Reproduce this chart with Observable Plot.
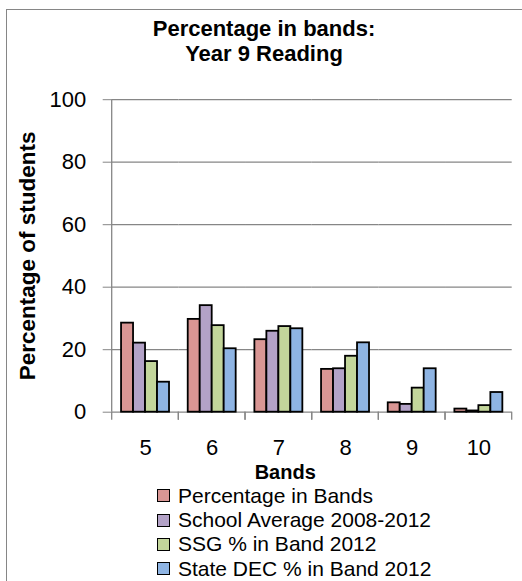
<!DOCTYPE html>
<html>
<head>
<meta charset="utf-8">
<script src="https://cdn.jsdelivr.net/npm/d3@7"></script>
<script src="https://cdn.jsdelivr.net/npm/@observablehq/plot@0.6"></script>
<style>
  html, body { margin: 0; padding: 0; background: #fff; }
  #wrap { position: relative; width: 522px; height: 581px; overflow: hidden; font-family: "Liberation Sans", Arial, sans-serif; color: #000; }
  #border { position: absolute; left: 6px; top: 9px; width: 700px; height: 800px; border: 1.5px solid #868686; }
  #title { position: absolute; left: 0; top: 15.6px; width: 528px; text-align: center; font-weight: bold; font-size: 22px; line-height: 25px; }
  #chart { position: absolute; left: 0; top: 80px; }
  #legend { position: absolute; left: 157px; top: 483.5px; font-size: 21px; }
  #legend .row { display: flex; align-items: center; height: 24.4px; line-height: 24.4px; white-space: nowrap; }
  #legend .sw { width: 11px; height: 11px; border: 1px solid #000; margin-right: 8px; flex: none; }
</style>
</head>
<body>
<div id="wrap">
  <div id="border"></div>
  <div id="title">Percentage in bands:<br>Year 9 Reading</div>
  <div id="chart"></div>
  <div id="legend"></div>
</div>
<script>
const bands = ["5", "6", "7", "8", "9", "10"];
const series = ["Percentage in Bands", "School Average 2008-2012", "SSG % in Band 2012", "State DEC % in Band 2012"];
const percentageInBands = [28.5, 29.7, 23.2, 13.7, 3.0, 1.0];
const schoolAverage = [22.1, 34.1, 25.9, 13.9, 2.5, 0.4];
const ssgBand = [16.2, 27.7, 27.4, 17.9, 7.7, 2.1];
const stateBand = [9.6, 20.3, 26.7, 22.2, 13.9, 6.3];
const yTicks = [0, 20, 40, 60, 80, 100];
const colors = ["#D99694", "#B3A2C7", "#C3D69B", "#8EB4E3"];

const valuesBySeries = [percentageInBands, schoolAverage, ssgBand, stateBand];
const data = [];
bands.forEach((b, i) => series.forEach((s, j) => data.push({band: b, series: s, value: valuesBySeries[j][i]})));

const gray = "#868686";

const chart = Plot.plot({
  width: 522,
  height: 408,
  marginLeft: 111.7,
  marginRight: 10.3,
  marginTop: 19.2,
  marginBottom: 76.3,
  style: {fontFamily: "'Liberation Sans', Arial, sans-serif", fontSize: "20px", color: "#000", background: "transparent"},
  fx: {domain: bands, padding: 0, round: false},
  x: {domain: series, paddingInner: 0, paddingOuter: 0.78, round: false, axis: null},
  y: {domain: [0, 100], axis: null},
  color: {domain: series, range: colors},
  marks: [
    Plot.gridY(yTicks, {stroke: gray, strokeOpacity: 1, strokeWidth: 1.3}),
    Plot.ruleY(bands, {
      fx: d => d, y: () => 0, stroke: gray,
      render: (index, scales, values, dims) => {
        const g = d3.create("svg:g").attr("stroke", gray).attr("stroke-width", 1.3);
        const y0 = scales.y(0);
        const xl = dims.marginLeft, xr = dims.width - dims.marginRight;
        for (const x of [xl, xr]) g.append("line").attr("x1", x).attr("x2", x).attr("y1", y0).attr("y2", y0 + 8);
        if (index.length && index[0] === 0) {
          g.append("line").attr("x1", xl).attr("x2", xl).attr("y1", scales.y(100)).attr("y2", y0);
        }
        return g.node();
      }
    }),
    Plot.barY(data, {fx: "band", x: "series", y: "value", fill: "series", stroke: "#000", strokeWidth: 1.8}),
    Plot.axisY(yTicks, {tickSize: 9, tickPadding: 17, stroke: gray, fill: "#000", fontSize: 22, label: null}),
    Plot.axisFx({anchor: "bottom", tickSize: 0, tickPadding: 27.5, fontSize: 22, label: null}),
    Plot.text(["Bands"], {facet: "super", frameAnchor: "bottom", lineAnchor: "middle", textAnchor: "middle", dy: 60.8, dx: -27, fontWeight: "bold", fontSize: 20}),
    Plot.text(["Percentage of students"], {facet: "super", frameAnchor: "left", lineAnchor: "middle", textAnchor: "middle", rotate: -90, dx: -84.7, fontWeight: "bold", fontSize: 22.5})
  ]
});
document.getElementById("chart").appendChild(chart);

const legend = document.getElementById("legend");
series.forEach((s, j) => {
  const row = document.createElement("div");
  row.className = "row";
  const sw = document.createElement("span");
  sw.className = "sw";
  sw.style.background = colors[j];
  const t = document.createElement("span");
  t.textContent = s;
  row.appendChild(sw);
  row.appendChild(t);
  legend.appendChild(row);
});
</script>
</body>
</html>
